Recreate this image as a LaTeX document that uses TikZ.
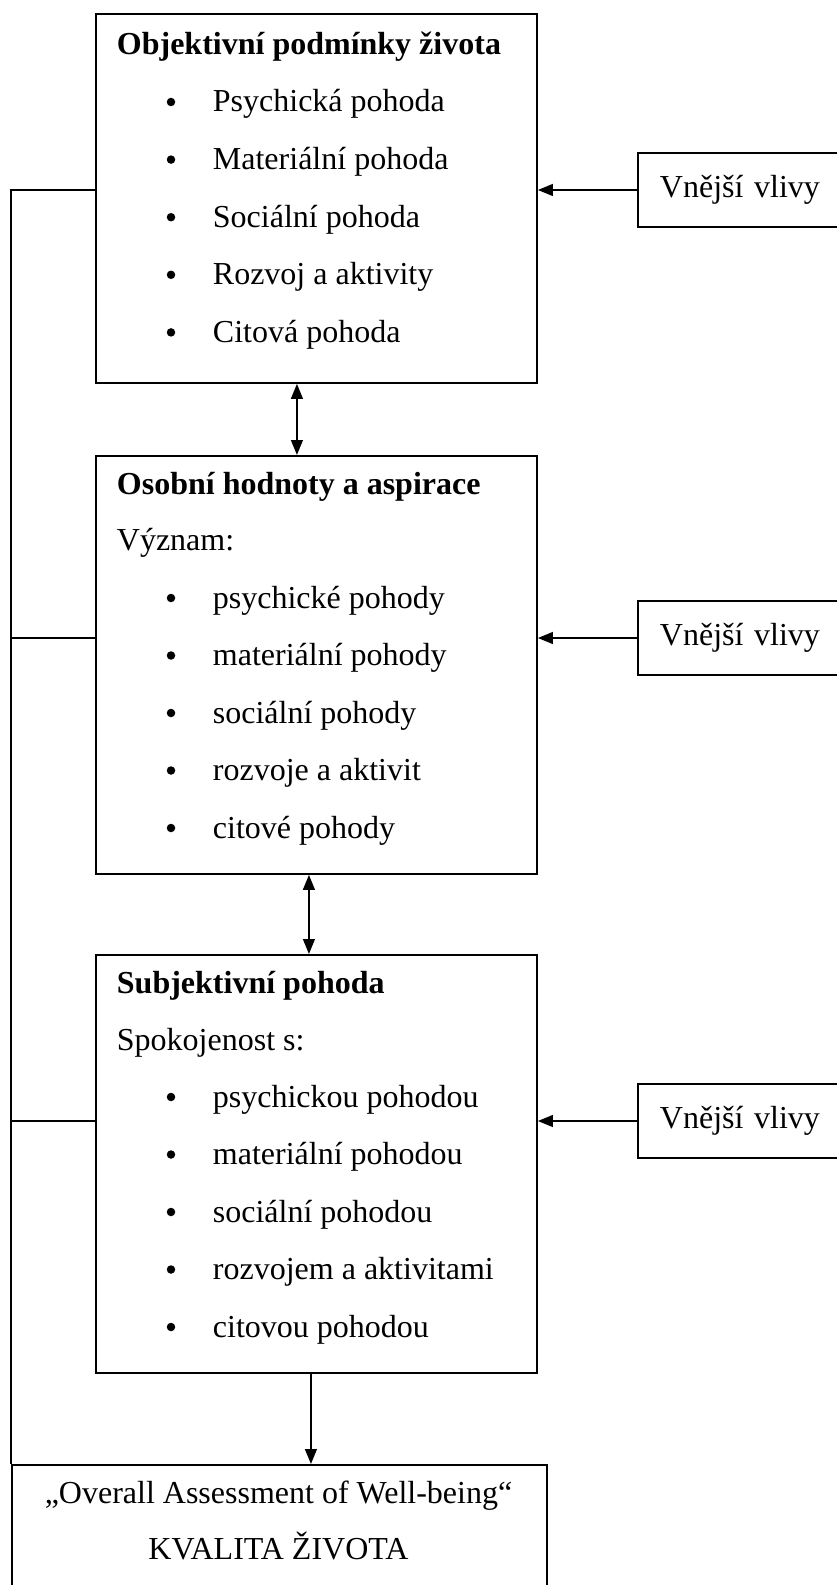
\documentclass[12pt,tikz,border=0pt]{standalone}
\usepackage{fontspec}
\setmainfont{Liberation Serif}
\usetikzlibrary{arrows.meta}
\newcommand{\px}{0.375pt}
\begin{document}
\begin{tikzpicture}[x=0.375pt, y=-0.375pt, line width=0.7pt,
    >={Triangle[length=5.6pt, width=4.4pt]},
    box/.style={draw, rectangle, anchor=north west, minimum width=441*\px, inner sep=0pt},
    vliv/.style={draw, rectangle, anchor=west, align=left, text width=176*\px,
      inner xsep=22*\px, minimum height=74*\px},
    item/.style={anchor=base west, inner sep=0pt},
    head/.style={item, font=\bfseries},
    dot/.style={circle, fill, inner sep=0pt, minimum size=8.5*\px},
    ]
    \useasboundingbox (0,0) rectangle (836,1585);

    \node[box, minimum height=369*\px] (A) at (95,13) {};
    \node[box, minimum height=418*\px] (B) at (95,455) {};
    \node[box, minimum height=418*\px] (C) at (95,954) {};
    \node[draw, rectangle, anchor=north west, minimum width=535*\px, minimum height=140*\px,
      inner sep=0pt] (D) at (11,1464) {};

    \node[head] (ahead) at (116,55) {Objektivní podmínky života};
    \foreach \txt [count=\i] in {Psychická pohoda, Materiální pohoda, Sociální pohoda,
        Rozvoj a aktivity, Citová pohoda} {
      \node[dot] (adot\i) at (171,{102+57.6*(\i-1)}) {};
      \node[item] (a\i) at (212,{112+57.6*(\i-1)}) {\txt};
    }

    \node[head] (bhead) at (116,495) {Osobní hodnoty a aspirace};
    \node[item] (bsub) at (116,550) {Význam:};
    \foreach \txt [count=\i] in {psychické pohody, materiální pohody, sociální pohody,
        rozvoje a aktivit, citové pohody} {
      \node[dot] (bdot\i) at (171,{598+57.5*(\i-1)}) {};
      \node[item] (b\i) at (212,{608+57.5*(\i-1)}) {\txt};
    }

    \node[head] (chead) at (116,993) {Subjektivní pohoda};
    \node[item] (csub) at (116,1050) {Spokojenost s:};
    \foreach \txt [count=\i] in {psychickou pohodou, materiální pohodou, sociální pohodou,
        rozvojem a aktivitami, citovou pohodou} {
      \node[dot] (cdot\i) at (171,{1097+57.5*(\i-1)}) {};
      \node[item] (c\i) at (212,{1107+57.5*(\i-1)}) {\txt};
    }

    \node[anchor=base, inner sep=0pt] (d1) at (278.5,1503) {„Overall Assessment of Well-being“};
    \node[anchor=base, inner sep=0pt] (d2) at (278.5,1559) {KVALITA ŽIVOTA};

    \node[vliv] (v1) at (637,190) {Vnější vlivy};
    \node[vliv] (v2) at (637,638) {Vnější vlivy};
    \node[vliv] (v3) at (637,1121) {Vnější vlivy};

    \draw[->] (v1.west) -- (v1.west -| A.east);
    \draw[->] (v2.west) -- (v2.west -| B.east);
    \draw[->] (v3.west) -- (v3.west -| C.east);

    \draw[<->] ([xshift=-19.5*\px]A.south) -- ([xshift=-19.5*\px]B.north);
    \draw[<->] ([xshift=-7.5*\px]B.south) -- ([xshift=-7.5*\px]C.north);
    \coordinate (cd) at ([xshift=-5.5*\px]C.south);
    \draw[->] (cd) -- (cd |- D.north);

    \draw (A.west |- v1.west) -| (D.north west);
    \draw (B.west |- v2.west) -- (D.north west |- v2.west);
    \draw (C.west |- v3.west) -- (D.north west |- v3.west);
  \end{tikzpicture}
\end{document}
